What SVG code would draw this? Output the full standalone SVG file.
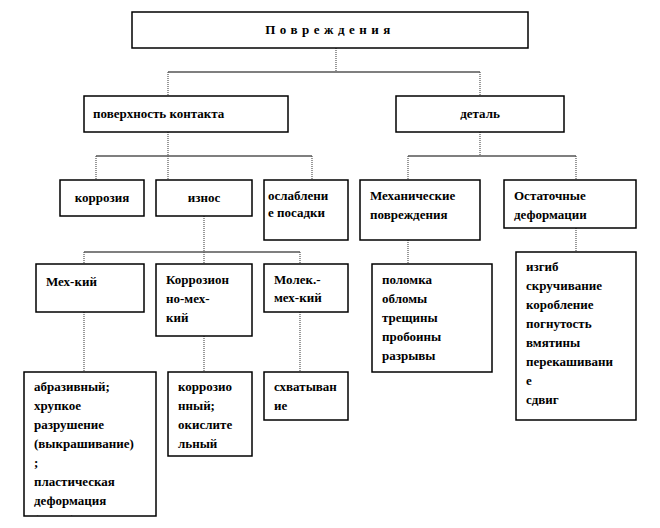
<svg xmlns="http://www.w3.org/2000/svg" width="660" height="528" viewBox="0 0 660 528">
<style>
rect{fill:#fff;stroke:#000;stroke-width:1.5}
.c line{stroke:#000;stroke-width:1.2}
.c line.v{stroke:#555;stroke-dasharray:1 1}
text{font-family:"Liberation Serif","Times New Roman","DejaVu Serif",serif;font-weight:bold;font-size:13px;fill:#000}
</style>
<defs><clipPath id="cl"><rect x="24" y="372" width="132" height="144"/></clipPath></defs>
<rect x="0" y="0" width="660" height="528" style="stroke:none"/>
<g class="c">
<line class="v" x1="336" y1="48" x2="336" y2="72"/><line x1="168" y1="72" x2="480" y2="72"/>
<line class="v" x1="168" y1="72" x2="168" y2="96"/><line class="v" x1="480" y1="72" x2="480" y2="96"/>
<line class="v" x1="168" y1="132" x2="168" y2="156"/><line x1="96" y1="156" x2="312" y2="156"/>
<line class="v" x1="96" y1="156" x2="96" y2="180"/><line class="v" x1="168" y1="156" x2="168" y2="180"/><line class="v" x1="312" y1="156" x2="312" y2="180"/>
<line class="v" x1="480" y1="132" x2="480" y2="156"/><line x1="408" y1="156" x2="576" y2="156"/>
<line class="v" x1="408" y1="156" x2="408" y2="180"/><line class="v" x1="576" y1="156" x2="576" y2="180"/>
<line class="v" x1="204" y1="216" x2="204" y2="252"/><line x1="84" y1="252" x2="300" y2="252"/>
<line class="v" x1="84" y1="252" x2="84" y2="264"/><line class="v" x1="204" y1="252" x2="204" y2="264"/><line class="v" x1="300" y1="252" x2="300" y2="264"/>
<line class="v" x1="84" y1="312" x2="84" y2="372"/><line class="v" x1="204" y1="336" x2="204" y2="372"/><line class="v" x1="300" y1="312" x2="300" y2="372"/>
<line class="v" x1="408" y1="240" x2="408" y2="264"/><line class="v" x1="576" y1="228" x2="576" y2="252"/>
</g>
<g id="root"><rect x="132" y="12" width="396" height="36"/><text x="330" y="34" text-anchor="middle" letter-spacing="4.5">Повреждения</text></g>
<g id="surface"><rect x="84" y="96" width="204" height="36"/><text x="93" y="118">поверхность контакта</text></g>
<g id="detail"><rect x="396" y="96" width="168" height="36"/><text x="480" y="118" text-anchor="middle">деталь</text></g>
<g id="corr"><rect x="60" y="180" width="84" height="36"/><text x="102" y="202" text-anchor="middle">коррозия</text></g>
<g id="wear"><rect x="156" y="180" width="96" height="36"/><text x="204" y="202" text-anchor="middle">износ</text></g>
<g id="loose"><rect x="264" y="180" width="84" height="60"/><text x="268" y="200">ослаблени</text><text x="268" y="217">е посадки</text></g>
<g id="mech"><rect x="360" y="180" width="120" height="60"/><text x="370" y="200">Механические</text><text x="370" y="219">повреждения</text></g>
<g id="resid"><rect x="504" y="180" width="132" height="48"/><text x="514" y="200">Остаточные</text><text x="514" y="219">деформации</text></g>
<g id="mk"><rect x="36" y="264" width="108" height="48"/><text x="46" y="286">Мех-кий</text></g>
<g id="cm"><rect x="156" y="264" width="96" height="72"/><text x="166" y="284">Коррозион</text><text x="166" y="303">но-мех-</text><text x="166" y="322">кий</text></g>
<g id="mm"><rect x="264" y="264" width="84" height="48"/><text x="274" y="284">Молек.-</text><text x="274" y="302">мех-кий</text></g>
<g id="ab"><rect x="24" y="372" width="132" height="144"/><g clip-path="url(#cl)"><text x="34" y="391">абразивный;</text><text x="34" y="410">хрупкое</text><text x="34" y="429">разрушение</text><text x="34" y="448">(выкрашивание)</text><text x="34" y="467">;</text><text x="34" y="486">пластическая</text><text x="34" y="505">деформация</text><text x="34" y="524">(износ)</text></g></g>
<g id="co"><rect x="168" y="372" width="84" height="84"/><text x="178" y="391">коррозио</text><text x="178" y="410">нный;</text><text x="178" y="429">окислите</text><text x="178" y="448">льный</text></g>
<g id="sx"><rect x="264" y="372" width="84" height="48"/><text x="274" y="391">схватыван</text><text x="274" y="410">ие</text></g>
<g id="ml"><rect x="372" y="264" width="120" height="108"/><text x="382" y="284">поломка</text><text x="382" y="303">обломы</text><text x="382" y="322">трещины</text><text x="382" y="341">пробоины</text><text x="382" y="360">разрывы</text></g>
<g id="rl"><rect x="516" y="252" width="120" height="168"/><text x="526" y="271">изгиб</text><text x="526" y="290">скручивание</text><text x="526" y="309">коробление</text><text x="526" y="328">погнутость</text><text x="526" y="347">вмятины</text><text x="526" y="366">перекашивани</text><text x="526" y="385">е</text><text x="526" y="404">сдвиг</text></g>
</svg>
